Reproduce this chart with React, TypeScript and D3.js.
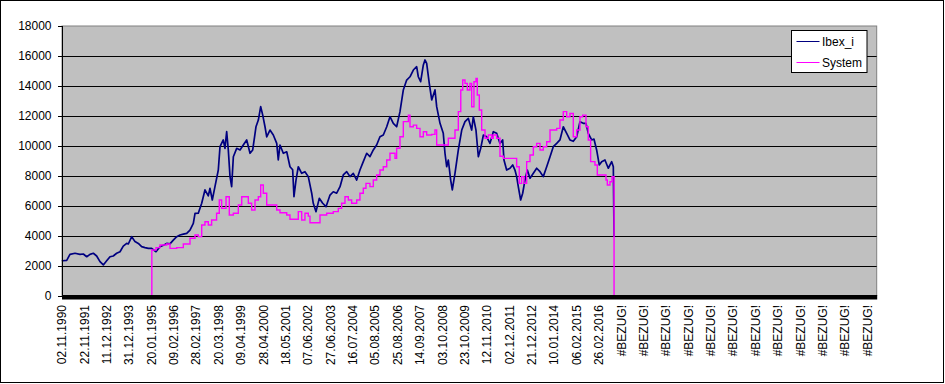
import React, { useEffect } from "react";
import * as d3 from "d3";

const TOTAL_POINTS = 10014;
const LABEL_STEP = 275;

const dateLabels = [
  "02.11.1990", "22.11.1991", "11.12.1992", "31.12.1993", "20.01.1995", "09.02.1996",
  "28.02.1997", "20.03.1998", "09.04.1999", "28.04.2000", "18.05.2001", "07.06.2002",
  "27.06.2003", "16.07.2004", "05.08.2005", "25.08.2006", "14.09.2007", "03.10.2008",
  "23.10.2009", "12.11.2010", "02.12.2011", "21.12.2012", "10.01.2014", "06.02.2015",
  "26.02.2016",
];
const errorLabels = Array.from({ length: 12 }, () => "#BEZUG!");
const xLabels = [...dateLabels, ...errorLabels];

const yTicks = [0, 2000, 4000, 6000, 8000, 10000, 12000, 14000, 16000, 18000];

// [category index, value]
const ibex: [number, number][] = [
  [0, 2280], [9, 2320], [58, 2350], [98, 2750], [160, 2820], [221, 2750], [262, 2770], [304, 2590],
  [344, 2750], [385, 2820], [426, 2640], [467, 2260], [508, 2040], [549, 2320], [590, 2590],
  [630, 2640], [672, 2820], [713, 2925], [753, 3300], [795, 3480], [815, 3440], [857, 3930],
  [897, 3600], [938, 3480], [979, 3260], [1020, 3200], [1061, 3150], [1102, 3150], [1155, 2925],
  [1204, 3260], [1254, 3370], [1287, 3480], [1327, 3450], [1368, 3700], [1410, 3930], [1450, 4040],
  [1491, 4100], [1533, 4150], [1573, 4370], [1614, 4820], [1635, 5490], [1675, 5500], [1717, 6160],
  [1757, 7050], [1798, 6650], [1819, 7160], [1847, 6380], [1880, 7270], [1921, 8380], [1942, 9940],
  [1982, 10390], [2003, 9830], [2024, 10940], [2044, 9720], [2065, 7940], [2085, 7270], [2106, 9270],
  [2147, 9830], [2188, 9720], [2228, 10050], [2270, 10390], [2311, 9500], [2344, 9720], [2384, 11270],
  [2413, 11720], [2442, 12610], [2467, 12050], [2495, 11270], [2516, 10600], [2556, 11050],
  [2597, 10720], [2639, 10160], [2658, 9050], [2679, 10050], [2720, 9500], [2762, 9600], [2802, 8600],
  [2835, 8400], [2851, 6600], [2876, 7710], [2904, 8600], [2946, 8160], [2986, 8270], [3027, 7940],
  [3069, 6830], [3088, 6160], [3122, 5600], [3162, 6490], [3204, 6160], [3245, 5930], [3294, 6710],
  [3334, 6930], [3376, 6830], [3417, 7270], [3457, 8050], [3499, 8270], [3540, 7940], [3580, 8160],
  [3622, 7710], [3662, 8380], [3703, 8940], [3745, 9500], [3785, 9270], [3826, 9720], [3867, 10050],
  [3908, 10600], [3949, 10720], [3991, 11270], [4031, 11940], [4072, 11500], [4113, 11270],
  [4154, 12280], [4195, 13730], [4236, 14390], [4277, 14610], [4318, 15060], [4359, 15280],
  [4379, 14610], [4408, 14280], [4441, 15400], [4461, 15730], [4482, 15500], [4514, 14170],
  [4544, 13060], [4584, 13730], [4605, 12610], [4646, 11500], [4686, 10830], [4707, 9500],
  [4728, 8600], [4748, 9050], [4777, 7710], [4797, 7050], [4830, 8160], [4871, 9720], [4913, 11050],
  [4953, 11610], [4994, 11830], [5035, 11050], [5055, 11940], [5088, 11050], [5117, 9270],
  [5146, 9830], [5179, 10720], [5220, 10600], [5260, 10160], [5301, 10940], [5342, 10830],
  [5383, 10160], [5416, 10390], [5432, 9050], [5465, 8380], [5506, 8500], [5539, 8720], [5567, 8380],
  [5588, 7940], [5608, 7270], [5637, 6380], [5662, 6830], [5690, 7710], [5719, 8380], [5752, 7830],
  [5793, 8160], [5834, 8500], [5875, 8270], [5915, 7940], [5957, 8600], [5998, 9270], [6038, 9940],
  [6080, 10160], [6120, 10390], [6161, 11270], [6203, 10830], [6243, 10390], [6284, 10300],
  [6326, 10600], [6366, 11610], [6407, 11500], [6440, 11500], [6468, 10830], [6510, 10390],
  [6538, 10450], [6571, 9720], [6603, 8720], [6633, 8940], [6673, 9050], [6714, 8500], [6756, 8940],
  [6776, 8600], [6785, 3930],
];

const system: [number, number][] = [
  [1102, 0], [1104, 3040], [1155, 3200], [1204, 3370], [1287, 3440], [1327, 3150], [1410, 3200],
  [1491, 3440], [1573, 3820], [1635, 4040], [1675, 3930], [1717, 4710], [1757, 4930], [1798, 4710],
  [1839, 5040], [1900, 5490], [1933, 6380], [1962, 5820], [2016, 6600], [2056, 5380], [2106, 5490],
  [2167, 6040], [2209, 6600], [2249, 6600], [2290, 6160], [2331, 5710], [2372, 6380], [2413, 6600],
  [2442, 7380], [2474, 6830], [2516, 6040], [2577, 6040], [2639, 5710], [2679, 5530], [2762, 5380],
  [2802, 5090], [2884, 5090], [2904, 5600], [2946, 5040], [2986, 5490], [3027, 5300], [3048, 4860],
  [3150, 4860], [3171, 5380], [3253, 5490], [3334, 5600], [3396, 5820], [3437, 6160], [3478, 6600],
  [3519, 6380], [3560, 6160], [3622, 6380], [3662, 6830], [3703, 7160], [3736, 7490], [3785, 7270],
  [3826, 7710], [3867, 8050], [3908, 8380], [3949, 8600], [3991, 9050], [4031, 9500], [4093, 9160],
  [4113, 9830], [4154, 10600], [4195, 11610], [4257, 12050], [4277, 11270], [4318, 11380],
  [4359, 11160], [4400, 10600], [4441, 10940], [4482, 10720], [4544, 10760], [4584, 11050],
  [4605, 10050], [4728, 10050], [4748, 10500], [4810, 10500], [4830, 11050], [4871, 12280],
  [4901, 13730], [4925, 14390], [4953, 14170], [4981, 13730], [5014, 14170], [5035, 12610],
  [5063, 14280], [5088, 14500], [5104, 13390], [5129, 12390], [5158, 11050], [5199, 10500],
  [5240, 10720], [5281, 10500], [5301, 10720], [5342, 10500], [5383, 9300], [5424, 9160],
  [5547, 9160], [5588, 8600], [5620, 7490], [5649, 7940], [5678, 7490], [5711, 8940], [5752, 9380],
  [5793, 9940], [5834, 10160], [5875, 9720], [5915, 9940], [5957, 10270], [5998, 11050],
  [6038, 11050], [6080, 11160], [6120, 11720], [6161, 12280], [6203, 11940], [6243, 12160],
  [6284, 10600], [6326, 11050], [6366, 11940], [6399, 12050], [6440, 11270], [6468, 10390],
  [6497, 8940], [6550, 8720], [6579, 8050], [6653, 8050], [6686, 7710], [6702, 7380], [6735, 7600],
  [6760, 7940], [6776, 7940], [6785, 0],
];

const W = 945;
const H = 384;
const plot = { left: 62, right: 876.7, top: 26, bottom: 295.5 };
const FONT = "Arial, 'Liberation Sans', sans-serif";

export default function App() {
  useEffect(() => {
    document.body.style.margin = "0";
  }, []);

  const x = d3.scaleLinear().domain([0, TOTAL_POINTS - 1]).range([plot.left, plot.right]);
  const y = d3.scaleLinear().domain([0, 18000]).range([plot.bottom, plot.top]);

  const line = d3
    .line<[number, number]>()
    .x((d) => x(d[0]))
    .y((d) => y(d[1]));

  const stepLine = d3
    .line<[number, number]>()
    .x((d) => x(d[0]))
    .y((d) => y(d[1]))
    .curve(d3.curveStepAfter);

  return (
    <svg width={W} height={H} style={{ position: "absolute", left: 0, top: 0, display: "block" }}
      fontFamily={FONT}>
      <rect x={0} y={0} width={W} height={H} fill="#fff" />
      <rect x={0.5} y={0.5} width={943} height={382} fill="none" stroke="#000" strokeWidth={1} />

      <rect x={plot.left} y={plot.top} width={plot.right - plot.left} height={plot.bottom - plot.top}
        fill="#C0C0C0" stroke="#808080" strokeWidth={1} />

      {yTicks.filter((t) => t > 0 && t < 18000).map((t) => (
        <line key={t} x1={plot.left} x2={plot.right} y1={Math.round(y(t)) + 0.5} y2={Math.round(y(t)) + 0.5}
          stroke="#000" strokeWidth={1} />
      ))}

      <path d={line(ibex) || ""} fill="none" stroke="#000080" strokeWidth={1.7} strokeLinejoin="round" />
      <path d={stepLine(system) || ""} fill="none" stroke="#FF00FF" strokeWidth={1.4} />

      {/* category axis: thick black bar */}
      <rect x={plot.left} y={295} width={plot.right - plot.left + 0.5} height={4.5} fill="#000" />

      {/* value axis */}
      <line x1={plot.left + 0.5} x2={plot.left + 0.5} y1={plot.top} y2={plot.bottom} stroke="#000" />
      {yTicks.map((t) => (
        <g key={t}>
          <line x1={58} x2={plot.left} y1={Math.round(y(t)) + 0.5} y2={Math.round(y(t)) + 0.5} stroke="#000" />
          <text x={51.5} y={y(t)} dy="0.35em" textAnchor="end" fontSize={12} fill="#000">{t}</text>
        </g>
      ))}

      {xLabels.map((lab, i) => {
        const xx = x(i * LABEL_STEP);
        return (
          <text key={i} transform={`translate(${xx},305) rotate(-90)`} textAnchor="end" dy="0.35em"
            fontSize={12} fill="#000">{lab}</text>
        );
      })}

      {/* legend */}
      <g>
        <rect x={791.5} y={30.5} width={75.5} height={42} fill="#fff" stroke="#000" strokeWidth={1} />
        <line x1={796.5} x2={819.5} y1={41.5} y2={41.5} stroke="#000080" strokeWidth={1} />
        <text x={822} y={45.8} fontSize={12} fill="#000">Ibex_i</text>
        <line x1={796.5} x2={819.5} y1={62.5} y2={62.5} stroke="#FF00FF" strokeWidth={1} />
        <text x={822} y={66.8} fontSize={12} fill="#000">System</text>
      </g>
    </svg>
  );
}
